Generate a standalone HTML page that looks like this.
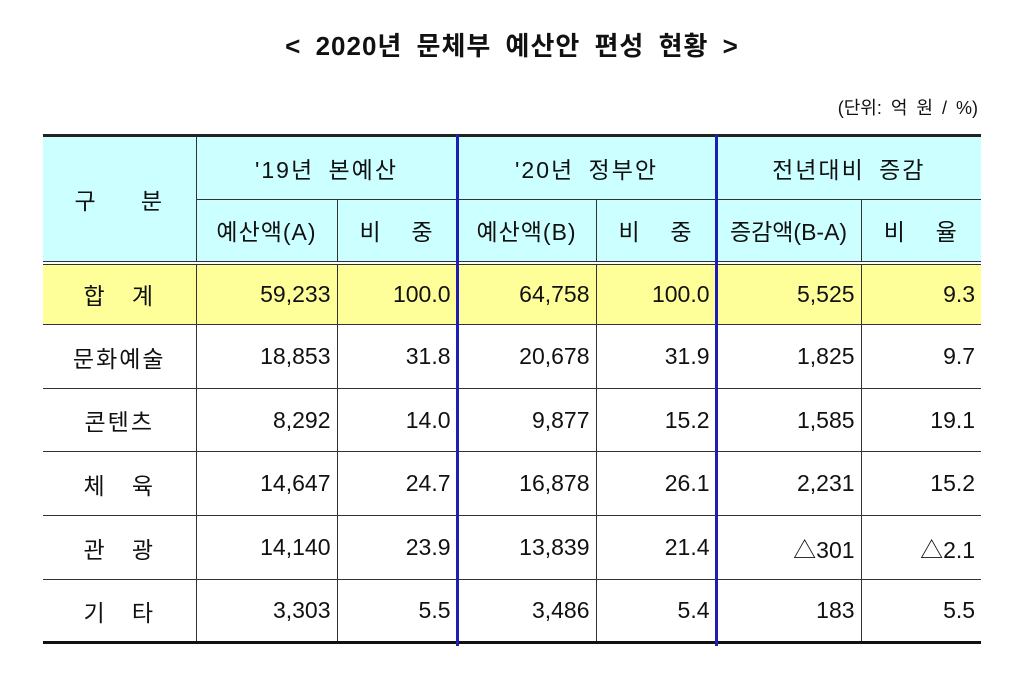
<!DOCTYPE html>
<html><head><meta charset="utf-8"><style>
body{margin:0;width:1024px;height:675px;background:#fff;position:relative;font-family:"Liberation Sans","Noto Sans CJK KR","NanumGothic",sans-serif;color:#111;overflow:hidden}
.title{position:absolute;left:0;width:1024px;top:26px;text-align:center;font-size:26px;font-weight:bold;letter-spacing:1px;word-spacing:6px}
.unit{position:absolute;right:46px;top:94px;font-size:18px;word-spacing:4px}
table{position:absolute;left:43px;top:134px;border-collapse:collapse;table-layout:fixed;width:938px;font-size:23px}
td{border:1px solid #333;padding:0 6px;text-align:right;overflow:hidden;white-space:nowrap}
td.c{text-align:center;letter-spacing:2px}
tr.h td{background:#ccffff;text-align:center;letter-spacing:2px;word-spacing:6px}
tr.s td{background:#ffff99}
tr.s td{border-top:4px double #333}
table{border-top:3px solid #222;border-bottom:3px solid #111}
td:first-child{border-left:none}td:last-child{border-right:none}
.blue{position:absolute;width:3px;background:#1e1eb4;top:134px;height:512px}
</style></head><body>
<div class="title">&lt; 2020년 문체부 예산안 편성 현황 &gt;</div>
<div class="unit">(단위: 억 원 / %)</div>
<table>
<colgroup><col style="width:153px"><col style="width:141px"><col style="width:120px"><col style="width:139px"><col style="width:120px"><col style="width:145px"><col style="width:120px"></colgroup>
<tr class="h" style="height:64px"><td rowspan="2">구 &nbsp; 분</td><td colspan="2">'19년 본예산</td><td colspan="2">'20년 정부안</td><td colspan="2">전년대비 증감</td></tr>
<tr class="h" style="height:63px"><td style="letter-spacing:1px">예산액(A)</td><td>비 &nbsp;중</td><td style="letter-spacing:1px">예산액(B)</td><td>비 &nbsp;중</td><td style="letter-spacing:0">증감액(B-A)</td><td>비 &nbsp;율</td></tr>
<tr class="s" style="height:62px"><td class="c">합 &nbsp; 계</td><td>59,233</td><td>100.0</td><td>64,758</td><td>100.0</td><td>5,525</td><td>9.3</td></tr>
<tr style="height:64px"><td class="c">문화예술</td><td>18,853</td><td>31.8</td><td>20,678</td><td>31.9</td><td>1,825</td><td>9.7</td></tr>
<tr style="height:63px"><td class="c">콘텐츠</td><td>8,292</td><td>14.0</td><td>9,877</td><td>15.2</td><td>1,585</td><td>19.1</td></tr>
<tr style="height:64px"><td class="c">체 &nbsp; 육</td><td>14,647</td><td>24.7</td><td>16,878</td><td>26.1</td><td>2,231</td><td>15.2</td></tr>
<tr style="height:64px"><td class="c">관 &nbsp; 광</td><td>14,140</td><td>23.9</td><td>13,839</td><td>21.4</td><td>△301</td><td>△2.1</td></tr>
<tr style="height:63px"><td class="c">기 &nbsp; 타</td><td>3,303</td><td>5.5</td><td>3,486</td><td>5.4</td><td>183</td><td>5.5</td></tr>
</table>
<div class="blue" style="left:456px"></div>
<div class="blue" style="left:715px"></div>
</body></html>
